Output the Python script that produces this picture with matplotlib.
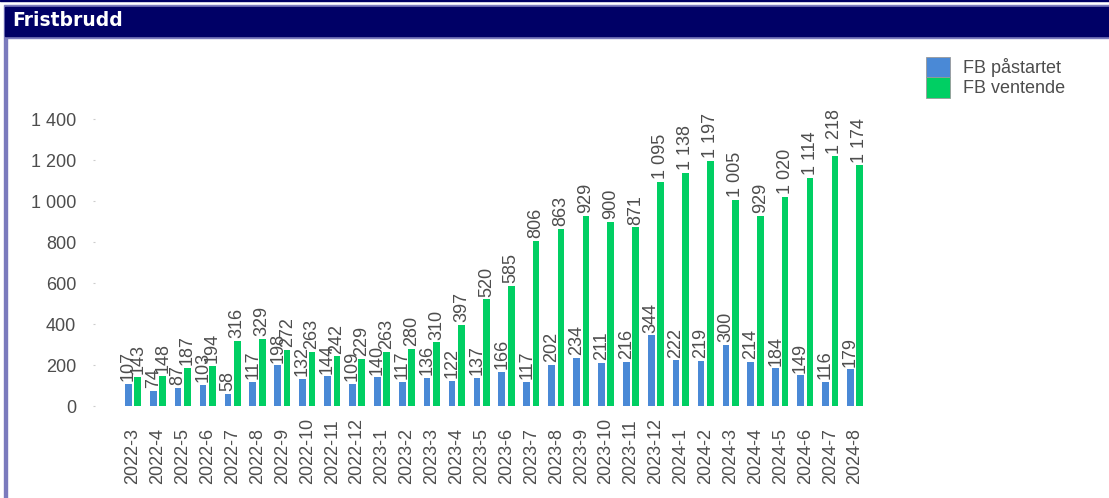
import numpy as np
import matplotlib.pyplot as plt
from matplotlib.patches import Rectangle
from matplotlib.transforms import blended_transform_factory

months = ["2022-3", "2022-4", "2022-5", "2022-6", "2022-7", "2022-8", "2022-9",
          "2022-10", "2022-11", "2022-12", "2023-1", "2023-2", "2023-3", "2023-4",
          "2023-5", "2023-6", "2023-7", "2023-8", "2023-9", "2023-10", "2023-11",
          "2023-12", "2024-1", "2024-2", "2024-3", "2024-4", "2024-5", "2024-6",
          "2024-7", "2024-8"]
pastartet = [107, 74, 87, 103, 58, 117, 198, 132, 144, 109, 140, 117, 136, 122,
             137, 166, 117, 202, 234, 211, 216, 344, 222, 219, 300, 214, 184, 149,
             116, 179]
ventende = [143, 148, 187, 194, 316, 329, 272, 263, 242, 229, 263, 280, 310, 397,
            520, 585, 806, 863, 929, 900, 871, 1095, 1138, 1197, 1005, 929, 1020,
            1114, 1218, 1174]
yticks = [0, 200, 400, 600, 800, 1000, 1200, 1400]

blue = "#4a89d6"
green = "#00cf63"
txt = "#4d4d4d"

plt.rcParams['font.family'] = ['Liberation Sans', 'DejaVu Sans']

W, H = 1109, 498
fig = plt.figure(figsize=(W / 100, H / 100), dpi=100)

def fy(p):
    return 1 - p / H

# frame / header
fig.patches.append(Rectangle((0, fy(1.5)), 1, 1.5 / H, transform=fig.transFigure,
                             color="#000066", zorder=0))
fig.patches.append(Rectangle((4 / W, fy(38)), 1, 33 / H, transform=fig.transFigure,
                             color="#7b7bbd", zorder=0))
fig.patches.append(Rectangle((5 / W, fy(36)), 1, 29 / H, transform=fig.transFigure,
                             color="#000066", zorder=1))
fig.patches.append(Rectangle((4 / W, 0), 2.5 / W, fy(38), transform=fig.transFigure,
                             color="#7b7bbd", zorder=0))
fig.text(12 / W, fy(21), "Fristbrudd", color="white", fontsize=13.5,
         fontweight="bold", family="DejaVu Sans", va="center", ha="left")

left, right, top, bottom = 95, 880, 110, 406
ax = fig.add_axes([left / W, fy(bottom), (right - left) / W, (bottom - top) / H])

x = np.arange(len(months))
c0, step = 133, 24.9
ax.set_xlim((left - c0) / step, (right - c0) / step)
ax.set_ylim(0, (bottom - top) / 0.205)

w = 0.27
off = 0.19
b1 = ax.bar(x - off, pastartet, w, color=blue, label="FB påstartet")
b2 = ax.bar(x + off, ventende, w, color=green, label="FB ventende")

def fmt(v):
    return f"{v:,}".replace(",", " ")

for xs, vals in ((x - off, pastartet), (x + off, ventende)):
    for xi, v in zip(xs, vals):
        ax.annotate(fmt(v), (xi, v), xytext=(0, 2), textcoords="offset points",
                    rotation=90, ha="center", va="bottom", fontsize=13, color=txt)

for s in ax.spines.values():
    s.set_visible(False)

ax.set_yticks(yticks)
ax.set_yticklabels([fmt(t) for t in yticks])
ax.tick_params(axis="y", length=1.5, color="#cccccc", pad=12, labelsize=13,
               labelcolor=txt)
ax.set_xticks(x)
ax.set_xticklabels([])
ax.tick_params(axis="x", length=0)

trans = blended_transform_factory(ax.transData, ax.transAxes)
ylab = -(484 - bottom) / (bottom - top)
for xi, m in zip(x, months):
    ax.text(xi, ylab, m, rotation=90, ha="center", va="bottom", fontsize=13,
            color=txt, transform=trans)

leg = fig.legend(handles=[b1, b2], loc="upper left",
                 bbox_to_anchor=(926 / W, fy(57)), frameon=False, fontsize=13,
                 handlelength=1.33, handleheight=1.35, labelspacing=0.0,
                 handletextpad=0.7, borderaxespad=0, borderpad=0,
                 labelcolor=txt)
for p in leg.get_patches():
    p.set_edgecolor("#999999")
    p.set_linewidth(0.6)

fig.savefig("out.png", dpi=100)
